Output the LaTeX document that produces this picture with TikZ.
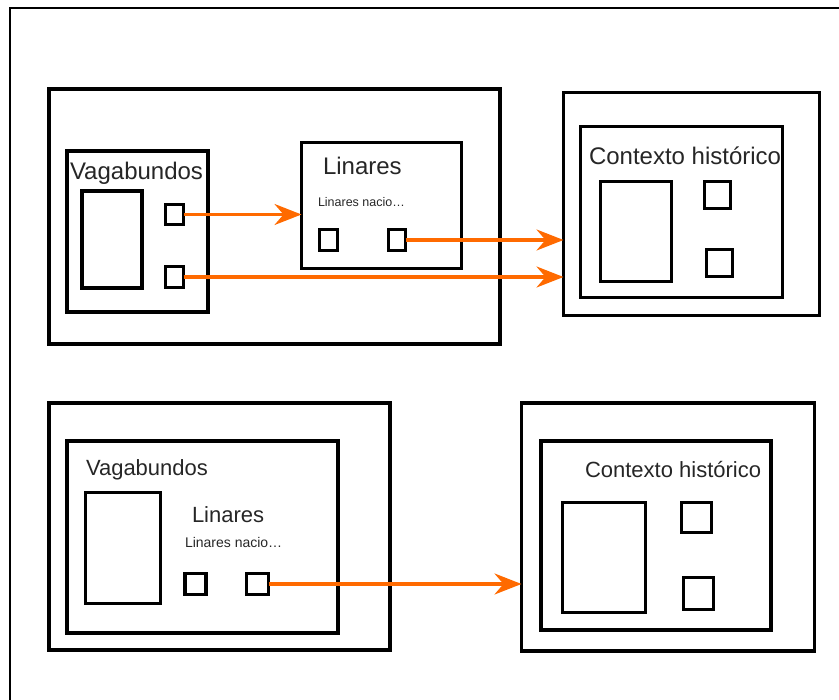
\documentclass[tikz,border=0pt]{standalone}
\usepackage{fontspec}
\setmainfont{Liberation Sans}
\usetikzlibrary{arrows.meta,positioning}
\definecolor{LinkOrange}{HTML}{FF6A00}

\begin{document}
\begin{tikzpicture}[x=1pt,y=-1pt,
    box/.style 2 args={draw, line width=3.2pt, inner sep=0pt, outer sep=0pt, anchor=north west, minimum width=#1, minimum height=#2},
    lbl/.style={anchor=base west, inner sep=0pt, outer sep=0pt, text=black!85},
    bigtxt/.style={lbl, font=\fontsize{24pt}{28pt}\selectfont},
    midtxt/.style={lbl, font=\fontsize{22pt}{26pt}\selectfont},
    tinytxt/.style={lbl, font=\fontsize{#1}{#1}\selectfont},
    link/.style={draw=LinkOrange, line width=3.2pt, -{Stealth[length=27pt,width=21pt,inset=9pt]}}]
    \useasboundingbox (0,0) rectangle (839,700);
    \clip (0,0) rectangle (839,700);
    % page frame, only its top and left sides fall inside the picture
    \draw[line width=1.8pt] (10,720) -- (10,8) -- (860,8);

    % upper group
    \node[box={451pt}{255pt}] (grpA) at (49,89) {};
    \node[box={141pt}{161pt}] (vagA) at (67,151) {};
    \node[bigtxt] (vagAname) at (70,180) {Vagabundos};
    \node[box={60pt}{97pt}] (vagAbody) at (82,191) {};
    \node[box={18pt}{20pt}] (vagAp1) at (165.5,204.5) {};
    \node[box={18pt}{21pt}] (vagAp2) at (165.5,266.5) {};

    \node[box={160pt}{126pt}] (linA) at (301.5,142.5) {};
    \node[bigtxt] (linAname) at (323,175) {Linares};
    \node[tinytxt=12.5pt] (linAnote) at (318,207) {Linares nacio\ldots};
    \node[box={18pt}{21pt}] (linAp1) at (319.5,229.5) {};
    \node[box={17pt}{21pt}] (linAp2) at (388.5,229.5) {};

    \node[box={256pt}{223pt}] (ctxA) at (563.5,92.5) {};
    \node[box={202pt}{171pt}] (ctxAin) at (580.5,126.5) {};
    \node[bigtxt] (ctxAname) at (589,165) {Contexto histórico};
    \node[box={71pt}{100pt}] (ctxAbody) at (600.5,181.5) {};
    \node[box={26pt}{27pt}] (ctxAp1) at (704.5,181.5) {};
    \node[box={26pt}{27pt}] (ctxAp2) at (706.5,249.5) {};

    % lower group
    \node[box={341pt}{247pt}] (grpB) at (49,403) {};
    \node[box={271pt}{192pt}] (vagB) at (67,441) {};
    \node[midtxt] (vagBname) at (86,476) {Vagabundos};
    \node[box={75pt}{111pt}] (vagBbody) at (85.5,492.5) {};
    \node[midtxt] (linBname) at (192,523) {Linares};
    \node[tinytxt=14pt] (linBnote) at (185,548) {Linares nacio\ldots};
    \node[box={21pt}{21pt}] (linBp1) at (185,573.5) {};
    \node[box={22pt}{21pt}] (linBp2) at (246.5,573.5) {};

    \node[box={293pt}{248pt}] (ctxB) at (521.5,403) {};
    \node[box={230pt}{189pt}] (ctxBin) at (541,441) {};
    \node[midtxt] (ctxBname) at (585,478) {Contexto histórico};
    \node[box={83pt}{110pt}] (ctxBbody) at (562.5,502.5) {};
    \node[box={30pt}{30pt}] (ctxBp1) at (681.5,502.5) {};
    \node[box={30pt}{32pt}] (ctxBp2) at (683.5,577.5) {};

    % links
    \draw[link] (vagAp1.east) -- (vagAp1.east -| linA.west);
    \draw[link] (linAp2.east) -- (linAp2.east -| ctxA.west);
    \draw[link] (vagAp2.east) -- (vagAp2.east -| ctxA.west);
    \draw[link] (linBp2.east) -- (linBp2.east -| ctxB.west);
\end{tikzpicture}
\end{document}
